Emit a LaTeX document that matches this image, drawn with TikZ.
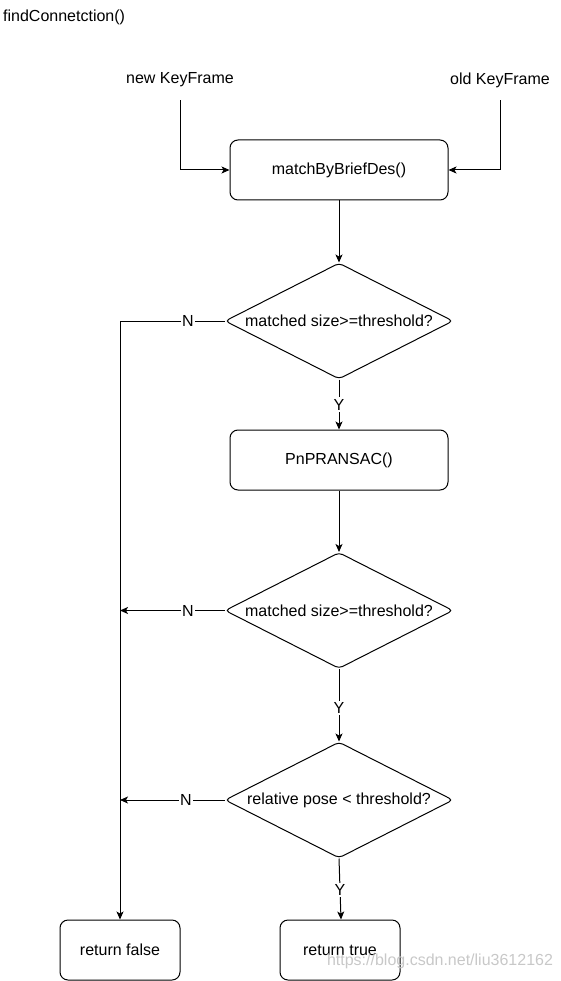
\documentclass[tikz,border=0pt]{standalone}
\usepackage{fontspec}
\setmainfont{Liberation Sans}
\usetikzlibrary{shapes.geometric,arrows.meta}
\definecolor{wm}{RGB}{200,200,200}
\begin{document}
\begin{tikzpicture}[x=1pt,y=-1pt,
  font=\fontsize{16}{19}\selectfont,
  proc/.style={draw, line width=1pt, rounded corners=8pt, minimum width=218pt, minimum height=60pt, inner sep=0pt},
  retbox/.style={draw, line width=1pt, rounded corners=8pt, minimum width=120pt, minimum height=60pt, inner sep=0pt},
  dec/.style={draw, line width=1pt, diamond, aspect=1.97, rounded corners=4pt, minimum width=228pt, minimum height=116pt, inner sep=0pt},
  plain/.style={inner sep=0pt, minimum height=40pt},
  conn/.style={draw, line width=1pt, -{Stealth[length=8pt,width=7pt,inset=2pt]}},
  wire/.style={draw, line width=1pt},
  lab/.style={fill=white, inner sep=1.5pt}
]
\useasboundingbox (0,0) rectangle (561,981);

\node[anchor=west, inner sep=0pt] (title) at (3,17) {findConnetction()};
\node[plain] (new) at (180,80) {new KeyFrame};
\node[plain] (old) at (500,80) {old KeyFrame};

\node[proc] (match) at (339,170) {matchByBriefDes()};
\node[dec] (d1) at (339,321) {matched size>=threshold?};
\node[proc] (pnp) at (339,460) {PnPRANSAC()};
\node[dec] (d2) at (339,610.5) {matched size>=threshold?};
\node[dec] (d3) at (339,800) {relative pose < threshold?};
\node[retbox] (rf) at (120,950) {return false};
\node[retbox] (rt) at (340,950) {return true};

\coordinate (c1) at (120,321);
\coordinate (c2) at (120,610.5);
\coordinate (c3) at (120,800);

\draw[conn] (new.south) |- (match.west);
\draw[conn] (old.south) |- (match.east);
\draw[conn] (match.south) -- (d1.north);

\draw[wire] (d1.west) -- node[lab, pos=0.35] {N} (c1);
\draw[conn] (c1) -- (rf.north);
\draw[conn] (d1.south) -- node[lab, pos=0.5] {Y} (pnp.north);
\draw[conn] (pnp.south) -- (d2.north);

\draw[conn] (d2.west) -- node[lab, pos=0.35] {N} (c2);
\draw[conn] (d2.south) -- node[lab, pos=0.54] {Y} (d3.north);

\draw[conn] (d3.west) -- node[lab, pos=0.37] {N} (c3);
\draw[conn] (d3.south) -- node[lab, pos=0.52] {Y} ([xshift=1pt]rt.north);

\node[text=wm, inner sep=0pt] (wmark) at (440,961) {https://blog.csdn.net/liu3612162};
\end{tikzpicture}
\end{document}
